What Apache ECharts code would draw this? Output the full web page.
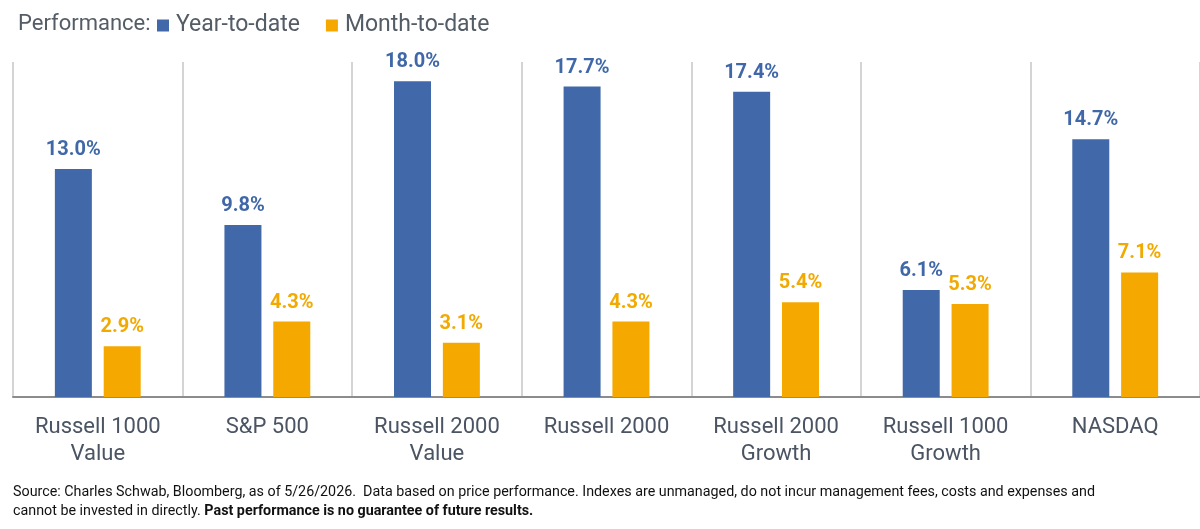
<!DOCTYPE html>
<html>
<head>
<meta charset="utf-8">
<script src="https://cdn.jsdelivr.net/npm/echarts@6/dist/echarts.min.js"></script>
<style>
  html, body { margin: 0; padding: 0; background: #fff; }
  #chart { width: 1200px; height: 529px; }
</style>
</head>
<body>
<div id="chart"></div>
<script>
var categories = ['Russell 1000\nValue', 'S&P 500', 'Russell 2000\nValue', 'Russell 2000', 'Russell 2000\nGrowth', 'Russell 1000\nGrowth', 'NASDAQ'];
var ytd = [13.0, 9.8, 18.0, 17.7, 17.4, 6.1, 14.7];
var mtd = [2.9, 4.3, 3.1, 4.3, 5.4, 5.3, 7.1];

var blue = '#4169a9';
var orange = '#f5a800';
var textFont = 'Roboto, "Noto Sans", sans-serif';
var footFont = 'Roboto, "Noto Sans", sans-serif';

var chart = echarts.init(document.getElementById('chart'));

chart.setOption({
  animation: false,
  title: {
    text: 'Performance:',
    left: 13,
    top: 8,
    textStyle: { fontFamily: textFont, fontSize: 22, fontWeight: 'normal', color: '#545c66' }
  },
  legend: {
    left: 152,
    top: 9,
    itemWidth: 12,
    itemHeight: 12,
    itemGap: 26,
    icon: 'rect',
    data: ['Year-to-date', 'Month-to-date'],
    textStyle: { fontFamily: textFont, fontSize: 23, color: '#545c66', padding: [0, 0, 0, 2] }
  },
  grid: { left: 13, right: 0, top: 62, bottom: 132 },
  xAxis: {
    type: 'category',
    data: categories,
    axisLine: { lineStyle: { color: '#8c8c8c', width: 2 } },
    axisTick: { length: 6, lineStyle: { color: '#8c8c8c', width: 2 } },
    axisLabel: {
      fontFamily: textFont, fontSize: 22, color: '#4a5462',
      lineHeight: 27, margin: 17
    },
    splitLine: { show: true, lineStyle: { color: '#d4d4d4', width: 2 } }
  },
  yAxis: {
    type: 'value',
    min: 0,
    max: 19.1,
    show: false,
    splitLine: { show: false }
  },
  series: [
    {
      name: 'Year-to-date',
      type: 'bar',
      data: ytd,
      barWidth: 37,
      barGap: '32%',
      itemStyle: { color: blue },
      label: {
        show: true, position: 'top', distance: 9,
        formatter: function (p) { return p.value.toFixed(1) + '%'; },
        fontFamily: textFont, fontSize: 20, fontWeight: 'bold', color: '#4068a8'
      }
    },
    {
      name: 'Month-to-date',
      type: 'bar',
      data: mtd,
      barWidth: 37,
      itemStyle: { color: orange },
      label: {
        show: true, position: 'top', distance: 9,
        formatter: function (p) { return p.value.toFixed(1) + '%'; },
        fontFamily: textFont, fontSize: 20, fontWeight: 'bold', color: '#f2a900'
      }
    }
  ],
  graphic: [
    {
      type: 'text',
      left: 13,
      top: 485,
      style: {
        text: 'Source: Charles Schwab, Bloomberg, as of 5/26/2026.  Data based on price performance. Indexes are unmanaged, do not incur management fees, costs and expenses and',
        font: '14.3px ' + footFont,
        fill: '#111'
      }
    },
    {
      type: 'text',
      left: 13,
      top: 504,
      style: {
        text: '{n|cannot be invested in directly. }{b|Past performance is no guarantee of future results.}',
        rich: {
          n: { font: '14.3px ' + footFont, fill: '#111' },
          b: { font: 'bold 14.3px ' + footFont, fill: '#111' }
        }
      }
    }
  ]
});
</script>
</body>
</html>
